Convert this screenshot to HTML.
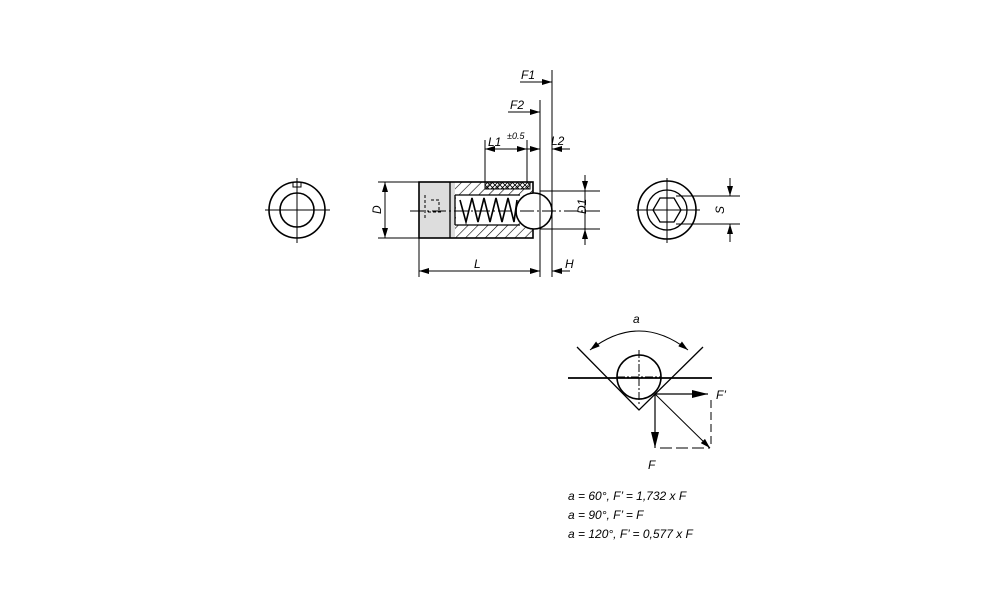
<!DOCTYPE html>
<html><head><meta charset="utf-8"><style>
html,body{margin:0;padding:0;background:#fff}
svg{display:block}
text{font-family:"Liberation Sans",sans-serif;font-style:italic;fill:#000}
</style></head><body>
<svg width="1000" height="611" viewBox="0 0 1000 611" xmlns="http://www.w3.org/2000/svg">
<defs>
<marker id="ar" viewBox="0 0 10 6" refX="10" refY="3" markerWidth="10" markerHeight="6" orient="auto-start-reverse" markerUnits="userSpaceOnUse"><path d="M0,0L10,3L0,6z" fill="#000"/></marker>
<marker id="big" viewBox="0 0 16 8" refX="16" refY="4" markerWidth="16" markerHeight="8" orient="auto" markerUnits="userSpaceOnUse"><path d="M0,0L16,4L0,8z" fill="#000"/></marker>
<pattern id="hatch" width="7" height="7" patternUnits="userSpaceOnUse" patternTransform="rotate(45)"><line x1="0" y1="0" x2="0" y2="7" stroke="#000" stroke-width="1.2"/></pattern>
<pattern id="knurl" width="5" height="5" patternUnits="userSpaceOnUse"><path d="M0,0L5,5M5,0L0,5" stroke="#000" stroke-width="0.8"/></pattern>
</defs>
<g stroke="#000" fill="none" stroke-width="1">
<circle cx="297" cy="210" r="28" stroke-width="1.6"/>
<circle cx="297" cy="210" r="17" stroke-width="1.6"/>
<path d="M293,182 v5 h8 v-5" />
<line x1="265" y1="210" x2="330" y2="210"/>
<line x1="297" y1="178" x2="297" y2="243"/>
<circle cx="667" cy="210" r="29" stroke-width="1.6"/>
<circle cx="667" cy="210" r="20" stroke-width="1.3"/>
<polygon points="681,210 674,222 660,222 653,210 660,198 674,198" stroke-width="1.3"/>
<line x1="636" y1="210" x2="700" y2="210"/>
<line x1="667" y1="178" x2="667" y2="243"/>
<line x1="676" y1="196" x2="740" y2="196"/>
<line x1="676" y1="224" x2="740" y2="224"/>
<line x1="730" y1="178" x2="730" y2="196" marker-end="url(#ar)"/>
<line x1="730" y1="242" x2="730" y2="224" marker-end="url(#ar)"/>
<rect x="419" y="182" width="36" height="56" fill="#ddd" stroke="none"/>
<rect x="455" y="182" width="78" height="56" fill="url(#hatch)" stroke="none"/>
<rect x="485" y="182" width="45" height="7" fill="url(#knurl)"/>
<rect x="456" y="195" width="62" height="30" fill="#fff" stroke="none"/>
<rect x="419" y="182" width="114" height="56" stroke-width="1.6"/>
<line x1="450" y1="182" x2="450" y2="238" stroke-width="1.3"/>
<line x1="455" y1="195" x2="520" y2="195" stroke-width="1.3"/>
<line x1="455" y1="225" x2="520" y2="225" stroke-width="1.3"/>
<line x1="455" y1="195" x2="455" y2="225" stroke-width="1.3"/>
<path d="M460,200 L466,222 L472,198 L478,222 L484,198 L490,222 L496,198 L502,222 L508,198 L514,222 L517,200" stroke-width="1.6"/>
<circle cx="534" cy="211" r="18" fill="#fff" stroke-width="1.6"/>
<path d="M425,195 v25 M431,200 h8 v10 M428,212 h14" stroke-dasharray="3,2"/>
<line x1="410" y1="211" x2="600" y2="211" stroke-dasharray="14,3,2,3"/>
<line x1="378" y1="182" x2="419" y2="182"/>
<line x1="378" y1="238" x2="419" y2="238"/>
<line x1="385" y1="182" x2="385" y2="238" marker-start="url(#ar)" marker-end="url(#ar)"/>
<line x1="540" y1="191" x2="600" y2="191"/>
<line x1="540" y1="229" x2="600" y2="229"/>
<line x1="585" y1="175" x2="585" y2="191" marker-end="url(#ar)"/>
<line x1="585" y1="245" x2="585" y2="229" marker-end="url(#ar)"/>
<line x1="585" y1="191" x2="585" y2="229"/>
<line x1="419" y1="238" x2="419" y2="277"/>
<line x1="540" y1="100" x2="540" y2="277"/>
<line x1="552" y1="70" x2="552" y2="277"/>
<line x1="527" y1="140" x2="527" y2="182"/>
<line x1="485" y1="140" x2="485" y2="182"/>
<line x1="419" y1="271" x2="540" y2="271" marker-start="url(#ar)" marker-end="url(#ar)"/>
<line x1="570" y1="271" x2="552" y2="271" marker-end="url(#ar)"/>
<line x1="485" y1="149" x2="527" y2="149" marker-start="url(#ar)" marker-end="url(#ar)"/>
<line x1="527" y1="149" x2="540" y2="149" marker-end="url(#ar)"/>
<line x1="570" y1="149" x2="552" y2="149" marker-end="url(#ar)"/>
<line x1="520" y1="82" x2="552" y2="82" marker-end="url(#ar)"/>
<line x1="508" y1="112" x2="540" y2="112" marker-end="url(#ar)"/>
<line x1="568" y1="378" x2="712" y2="378" stroke-width="1.8"/>
<circle cx="639" cy="377" r="22" stroke-width="1.6"/>
<path d="M577,347 L639,410 L703,347" stroke-width="1.3"/>
<line x1="617" y1="377" x2="661" y2="377" stroke-dasharray="8,2,2,2"/>
<line x1="639" y1="350" x2="639" y2="405" stroke-dasharray="8,2,2,2"/>
<path d="M590,350 Q639,312 688,350" marker-start="url(#ar)" marker-end="url(#ar)"/>
<line x1="655" y1="394" x2="708" y2="394" stroke-width="1.2" marker-end="url(#big)"/>
<line x1="655" y1="394" x2="655" y2="448" stroke-width="1.2" marker-end="url(#big)"/>
<line x1="655" y1="394" x2="710" y2="448" marker-end="url(#ar)"/>
<line x1="711" y1="400" x2="711" y2="448" stroke-dasharray="8,4"/>
<line x1="660" y1="448" x2="710" y2="448" stroke-dasharray="12,4"/>
</g>
<g font-size="12">
<text x="371" y="216" transform="rotate(-90 375 210)">D</text>
<text x="576" y="216" transform="rotate(-90 580 210)">D1</text>
<text x="714" y="216" transform="rotate(-90 718 210)">S</text>
<text x="474" y="268">L</text>
<text x="565" y="268">H</text>
<text x="488" y="146">L1</text>
<text x="507" y="139" font-size="9">±0.5</text>
<text x="551" y="145">L2</text>
<text x="521" y="79">F1</text>
<text x="510" y="109">F2</text>
<text x="633" y="323">a</text>
<text x="716" y="399">F’</text>
<text x="648" y="469">F</text>
<text x="568" y="500">a = 60°, F’ = 1,732 x F</text>
<text x="568" y="519">a = 90°, F’ = F</text>
<text x="568" y="538">a = 120°, F’ = 0,577 x F</text>
</g>
</svg>
</body></html>
